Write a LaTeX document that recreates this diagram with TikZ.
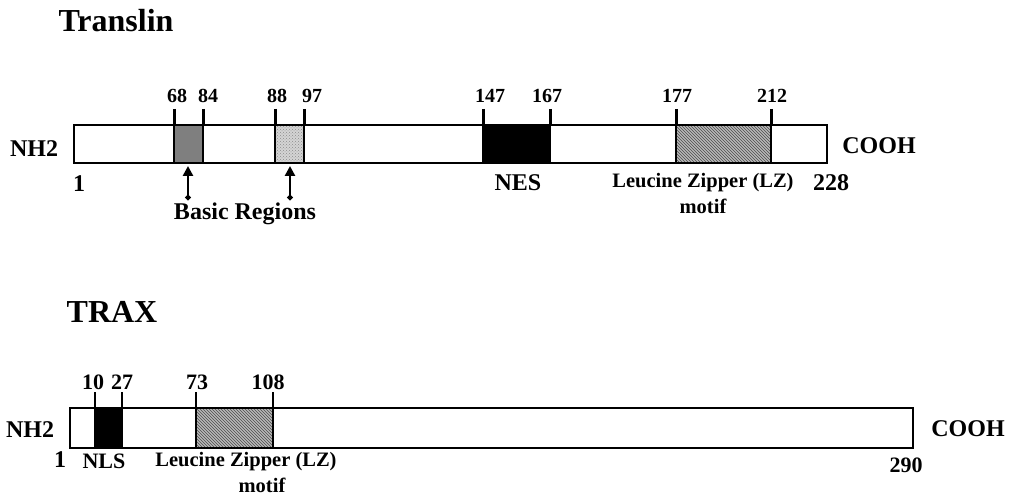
\documentclass[tikz,border=0pt]{standalone}
\usepackage{fontspec}
\setmainfont{Liberation Serif}
\usetikzlibrary{arrows.meta,patterns}
\definecolor{basicA}{HTML}{7F7F7F}
\definecolor{basicB}{HTML}{D4D4D4}
\definecolor{lzbg}{HTML}{B8B8B8}
\tikzset{
  lbl/.style={inner sep=0pt, font=\bfseries\fontsize{24}{26}\selectfont},
  num/.style={inner sep=0pt, font=\bfseries\fontsize{20}{22}\selectfont},
  numb/.style={inner sep=0pt, font=\bfseries\fontsize{22}{24}\selectfont},
  small/.style={inner sep=0pt, font=\bfseries\fontsize{20.5}{22}\selectfont, align=center},
  ttl/.style={inner sep=0pt, font=\bfseries\fontsize{32}{34}\selectfont},
  bar/.style={draw=black, line width=2.4pt, fill=white},
  tickline/.style={line width=3pt},
  lzfill/.style={fill=lzbg, postaction={pattern=north west lines, pattern color=black!70}},
  stipple/.style={fill=basicB, postaction={pattern=crosshatch dots, pattern color=black!45}},
  uparrow/.style={line width=2.6pt, {Circle[length=5pt]}-{Triangle[length=10pt,width=10pt]}}
}
\begin{document}
\begin{tikzpicture}[x=1pt,y=-1pt]
\useasboundingbox (0,0) rectangle (1010,497);
% ---------- Translin ----------
\node[ttl] (t1) at (116,21) {Translin};
\draw[bar] (74,125) rectangle (827,163);
\fill[basicA] (174,125) rectangle (203,163);
\fill[stipple] (275,125) rectangle (304,163);
\fill[black] (483,125) rectangle (550,163);
\fill[lzfill] (676,125) rectangle (771,163);
\draw[line width=2.4pt] (74,125) rectangle (827,163);
\foreach \x in {174,203,275,304,483,550,676,771}{
  \draw[line width=2.2pt] (\x,125) -- (\x,163);
  \draw[tickline] (\x,109) -- (\x,125);
}
\node[num] (n68) at (177,96) {68};
\node[num] (n84) at (208,96) {84};
\node[num] (n88) at (277,96) {88};
\node[num] (n97) at (312,96) {97};
\node[num] (n147) at (490,96) {147};
\node[num] (n167) at (547,96) {167};
\node[num] (n177) at (677,96) {177};
\node[num] (n212) at (772,96) {212};
\node[lbl] (nh1) at (34,149) {NH2};
\node[lbl] (co1) at (879,146) {COOH};
\node[lbl] (one1) at (79,184) {1};
\node[lbl] (e1) at (831,183) {228};
\node[lbl] (nes) at (518,183) {NES};
\node[small] (lz1) at (703,183) {Leucine Zipper (LZ)};
\node[small] (mo1) at (703,206) {motif};
\node[lbl] (basic) at (245,214) {Basic Regions};
\coordinate (a1t) at (188,200);
\coordinate (a1h) at (188,166);
\coordinate (a2t) at (290,200);
\coordinate (a2h) at (290,166);
\draw[uparrow] (a1t) -- (a1h);
\draw[uparrow] (a2t) -- (a2h);
% ---------- TRAX ----------
\node[ttl] (t2) at (112,312) {TRAX};
\draw[bar] (70,408) rectangle (913,448);
\fill[black] (95,408) rectangle (122,448);
\fill[lzfill] (196,408) rectangle (273,448);
\draw[line width=2.4pt] (70,408) rectangle (913,448);
\foreach \x in {95,122,196,273}{
  \draw[line width=2.2pt] (\x,408) -- (\x,448);
  \draw[line width=2.5pt] (\x,392) -- (\x,408);
}
\node[numb] (n10) at (93,382) {10};
\node[numb] (n27) at (122,382) {27};
\node[numb] (n73) at (197,382) {73};
\node[numb] (n108) at (268,382) {108};
\node[lbl] (nh2) at (30,430) {NH2};
\node[lbl] (co2) at (968,429) {COOH};
\node[lbl] (one2) at (60,460) {1};
\node[numb] (nls) at (104,461) {NLS};
\node[small] (lz2) at (246,462) {Leucine Zipper (LZ)};
\node[small] (mo2) at (262,485) {motif};
\node[numb] (e2) at (906,465) {290};
\end{tikzpicture}
\end{document}
